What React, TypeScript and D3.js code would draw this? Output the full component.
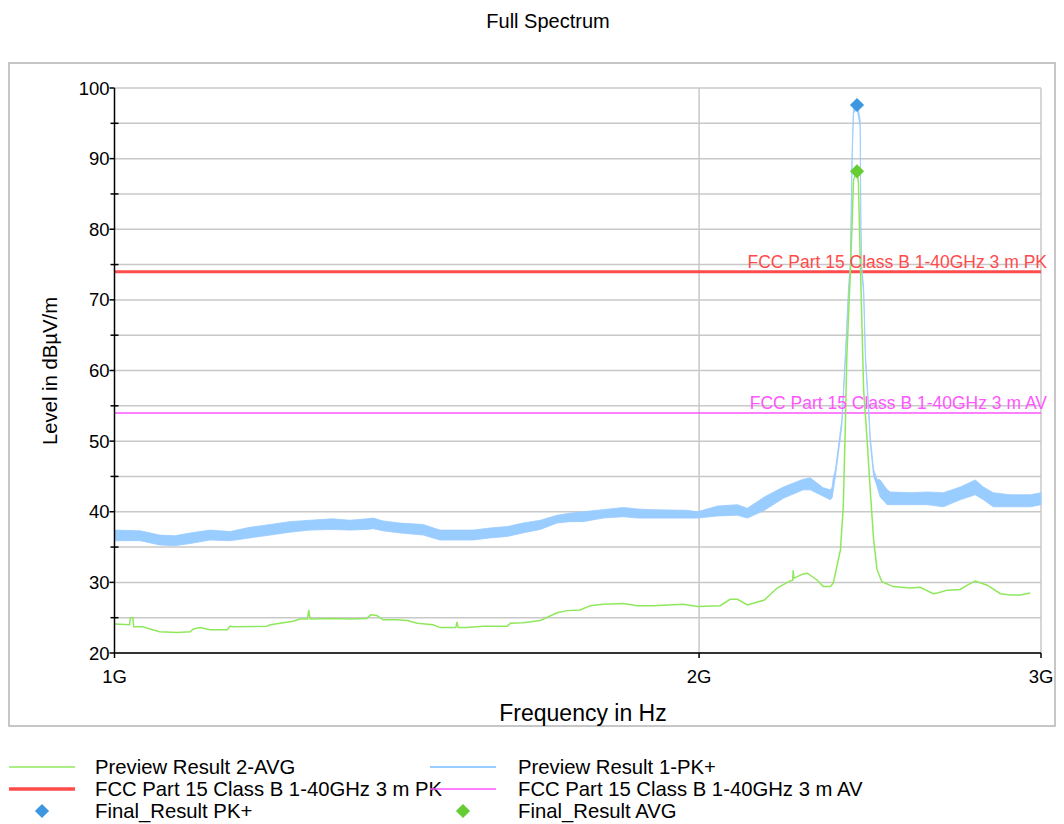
import { useEffect, useRef } from "react";
import * as d3 from "d3";

// 측정 데이터: 주파수(MHz), 레벨(dBµV/m) — 그림에서 읽은 값
const avgTrace: [number, number][] = [
  [1000, 24.1], [1018, 24.0], [1019, 25.0], [1022, 25.0], [1023, 23.7], [1034, 23.7], [1043, 23.4],
  [1055, 23.0], [1077, 22.9], [1094, 23.0], [1098, 23.4], [1107, 23.6], [1120, 23.3], [1143, 23.3],
  [1147, 23.8], [1151, 23.7], [1198, 23.8], [1203, 24.0], [1236, 24.5], [1246, 24.8], [1257, 24.8],
  [1259, 26.1], [1261, 24.8], [1295, 24.9], [1322, 24.8], [1349, 24.9], [1355, 25.4], [1365, 25.3],
  [1375, 24.7], [1398, 24.7], [1415, 24.6], [1432, 24.2], [1459, 24.0], [1471, 23.6], [1499, 23.6],
  [1501, 24.4], [1503, 23.6], [1519, 23.6], [1548, 23.8], [1593, 23.8], [1599, 24.2], [1623, 24.3],
  [1657, 24.6], [1690, 25.7], [1710, 26.0], [1737, 26.1], [1758, 26.7], [1785, 26.9], [1828, 27.0],
  [1859, 26.7], [1894, 26.7], [1963, 26.9], [1996, 26.6], [2051, 26.7], [2075, 27.6], [2093, 27.6],
  [2118, 26.8], [2161, 27.5], [2194, 29.2], [2228, 30.2], [2235, 30.3], [2236, 31.7], [2238, 30.6],
  [2263, 31.2], [2274, 31.3], [2301, 30.3], [2317, 29.4], [2337, 29.4], [2345, 29.9], [2365, 34.6],
  [2373, 40.7], [2379, 52.6], [2383, 62.0], [2393, 73.8], [2398, 80.9], [2402, 87.0], [2412, 88.2],
  [2416, 86.5], [2421, 76.1], [2426, 66.7], [2431, 57.2], [2441, 50.2], [2450, 43.1], [2460, 36.0],
  [2470, 31.8], [2484, 30.1], [2518, 29.4], [2569, 29.2], [2600, 29.3], [2640, 28.4], [2653, 28.5],
  [2685, 28.9], [2726, 29.0], [2749, 29.6], [2775, 30.2], [2815, 29.6], [2859, 28.4], [2893, 28.2],
  [2927, 28.2], [2962, 28.5],
];

// PK+ 트레이스: 노이즈 띠의 하한/상한 (MHz, low, high)
const pkBand: [number, number, number][] = [
  [1000, 35.9, 37.4], [1031, 35.9, 37.3], [1055, 35.3, 36.7], [1074, 35.2, 36.6], [1094, 35.5, 37.0],
  [1120, 36.0, 37.4], [1147, 35.9, 37.2], [1174, 36.3, 37.8], [1203, 36.7, 38.2], [1231, 37.1, 38.6],
  [1261, 37.4, 38.8], [1295, 37.5, 39.0], [1322, 37.4, 38.8], [1349, 37.5, 39.0], [1359, 37.6, 39.1],
  [1375, 37.3, 38.7], [1403, 37.0, 38.4], [1442, 36.7, 38.2], [1471, 36.0, 37.4], [1501, 36.0, 37.4],
  [1530, 36.0, 37.4], [1561, 36.3, 37.7], [1593, 36.5, 37.9], [1623, 37.0, 38.4], [1657, 37.5, 38.8],
  [1690, 38.4, 39.5], [1716, 38.6, 39.8], [1743, 38.6, 40.0], [1785, 39.1, 40.3], [1828, 39.3, 40.6],
  [1859, 39.1, 40.4], [1888, 39.1, 40.3], [1972, 39.1, 40.2], [1996, 39.1, 40.0], [2044, 39.4, 40.8],
  [2093, 39.5, 41.0], [2118, 39.1, 40.5], [2161, 40.2, 42.1], [2210, 41.9, 43.5], [2263, 43.1, 44.6],
  [2282, 43.1, 44.8], [2317, 42.2, 43.4], [2337, 41.7, 43.1], [2342, 42.0, 43.5], [2345, 43.0, 44.8],
  [2351, 45.0, 46.0], [2369, 52.1, 53.1], [2379, 61.5, 62.5], [2388, 70.9, 71.9], [2393, 74.2, 75.2],
  [2398, 89.8, 90.8], [2402, 96.4, 97.4], [2412, 97.1, 98.1], [2421, 94.5, 95.5], [2423, 80.4, 81.4],
  [2426, 73.3, 74.3], [2431, 70.9, 71.9], [2436, 61.5, 62.5], [2445, 54.4, 55.4], [2450, 49.7, 50.7],
  [2460, 45.0, 46.0], [2470, 43.6, 44.6], [2479, 42.1, 44.5], [2500, 41.0, 43.1], [2509, 41.0, 42.8],
  [2569, 41.0, 42.7], [2622, 41.0, 42.8], [2672, 40.7, 42.7], [2726, 41.7, 43.5], [2775, 42.4, 44.5],
  [2802, 41.7, 43.5], [2835, 40.7, 42.7], [2893, 40.7, 42.4], [2962, 40.7, 42.4], [3000, 41.0, 42.7],
];

const pkLimit = 74;
const avLimit = 54;
const pkLimitLabel = "FCC Part 15 Class B 1-40GHz 3 m PK";
const avLimitLabel = "FCC Part 15 Class B 1-40GHz 3 m AV";

const finalPk: [number, number][] = [[2412, 97.6]];
const finalAvg: [number, number][] = [[2412, 88.2]];

const yMajor = [20, 30, 40, 50, 60, 70, 80, 90, 100];
const yMinor = [25, 35, 45, 55, 65, 75, 85, 95];
const xTicks = [1000, 2000, 3000];
const xTickLabels = ["1G", "2G", "3G"];

const C = {
  avg: "#8fe85c",
  pk: "#99ccff",
  pkLim: "#ff4b4b",
  avLim: "#ff55ff",
  pkMark: "#3d97e0",
  avgMark: "#66cc33",
  grid: "#c8c8c8",
};

const legendItems = [
  { label: "Preview Result 2-AVG", kind: "line", color: C.avg, w: 1.5, col: 0, row: 0 },
  { label: "Preview Result 1-PK+", kind: "line", color: C.pk, w: 2, col: 1, row: 0 },
  { label: pkLimitLabel, kind: "line", color: C.pkLim, w: 3.5, col: 0, row: 1 },
  { label: avLimitLabel, kind: "line", color: C.avLim, w: 1.5, col: 1, row: 1 },
  { label: "Final_Result PK+", kind: "mark", color: C.pkMark, w: 0, col: 0, row: 2 },
  { label: "Final_Result AVG", kind: "mark", color: C.avgMark, w: 0, col: 1, row: 2 },
];

export default function App() {
  const svgRef = useRef<SVGSVGElement>(null);

  useEffect(() => {
    if (!svgRef.current) return;
    const svg = d3.select(svgRef.current);
    svg.selectAll("*").remove();
    const font = "'Liberation Sans', Arial, sans-serif";

    const x = d3.scaleLog().domain([1000, 3000]).range([114.5, 1041]);
    const y = d3.scaleLinear().domain([20, 100]).range([653, 88]);

    // 바깥 틀
    svg.append("rect")
      .attr("x", 9).attr("y", 63).attr("width", 1046).attr("height", 663)
      .attr("fill", "white").attr("stroke", "#b4b4b4").attr("stroke-width", 1.5);

    svg.append("text")
      .attr("x", 548).attr("y", 28).attr("text-anchor", "middle")
      .style("font-family", font).style("font-size", "20px")
      .text("Full Spectrum");

    // 그리드
    const grid = svg.append("g");
    grid.selectAll("line")
      .data([...yMajor, ...yMinor].filter((d) => d > 20))
      .join("line")
      .attr("x1", x(1000)).attr("x2", x(3000))
      .attr("y1", (d) => y(d)).attr("y2", (d) => y(d))
      .attr("stroke", C.grid).attr("stroke-width", 1.5);
    svg.append("g").selectAll("line")
      .data(xTicks.slice(1))
      .join("line")
      .attr("x1", (d) => x(d)).attr("x2", (d) => x(d))
      .attr("y1", y(20)).attr("y2", y(100))
      .attr("stroke", C.grid).attr("stroke-width", 1.5);

    // 한계선
    svg.append("line")
      .attr("x1", x(1000)).attr("x2", x(3000)).attr("y1", y(pkLimit)).attr("y2", y(pkLimit))
      .attr("stroke", C.pkLim).attr("stroke-width", 3);
    svg.append("line")
      .attr("x1", x(1000)).attr("x2", x(3000)).attr("y1", y(avLimit)).attr("y2", y(avLimit))
      .attr("stroke", C.avLim).attr("stroke-width", 1.5);

    // PK+ 띠
    const band = d3.area<[number, number, number]>()
      .x((d) => x(d[0])).y0((d) => y(d[1])).y1((d) => y(d[2]));
    svg.append("path")
      .datum(pkBand)
      .attr("fill", C.pk).attr("stroke", C.pk).attr("stroke-width", 0.8)
      .attr("stroke-linejoin", "round")
      .attr("d", band);

    // AVG 트레이스
    const line = d3.line<[number, number]>().x((d) => x(d[0])).y((d) => y(d[1]));
    svg.append("path")
      .datum(avgTrace)
      .attr("fill", "none").attr("stroke", C.avg).attr("stroke-width", 1.5)
      .attr("d", line);

    // 한계선 라벨
    [[pkLimit, pkLimitLabel, C.pkLim], [avLimit, avLimitLabel, C.avLim]].forEach(([v, t, c]) => {
      svg.append("text")
        .attr("x", 1047).attr("y", y(v as number) - 4).attr("text-anchor", "end")
        .attr("fill", c as string)
        .style("font-family", font).style("font-size", "17.5px")
        .text(t as string);
    });

    // 축
    svg.append("line")
      .attr("x1", x(1000)).attr("x2", x(1000)).attr("y1", y(20)).attr("y2", y(100))
      .attr("stroke", "#000").attr("stroke-width", 1.5);
    svg.append("line")
      .attr("x1", x(1000)).attr("x2", x(3000)).attr("y1", y(20)).attr("y2", y(20))
      .attr("stroke", "#333").attr("stroke-width", 2);

    svg.append("g").selectAll("line")
      .data(yMajor).join("line")
      .attr("x1", x(1000) - 5).attr("x2", x(1000))
      .attr("y1", (d) => y(d)).attr("y2", (d) => y(d))
      .attr("stroke", "#000").attr("stroke-width", 1.5);
    svg.append("g").selectAll("line")
      .data(yMinor).join("line")
      .attr("x1", x(1000) - 4).attr("x2", x(1000) + 4)
      .attr("y1", (d) => y(d)).attr("y2", (d) => y(d))
      .attr("stroke", "#000").attr("stroke-width", 1.5);
    svg.append("g").selectAll("line")
      .data(xTicks).join("line")
      .attr("x1", (d) => x(d)).attr("x2", (d) => x(d))
      .attr("y1", y(20)).attr("y2", y(20) + 5)
      .attr("stroke", "#000").attr("stroke-width", 1.5);

    svg.append("g").selectAll("text")
      .data(yMajor).join("text")
      .attr("x", x(1000) - 5).attr("y", (d) => y(d) + 6.5)
      .attr("text-anchor", "end")
      .style("font-family", font).style("font-size", "18.5px")
      .text((d) => String(d));
    svg.append("g").selectAll("text")
      .data(xTicks).join("text")
      .attr("x", (d) => x(d)).attr("y", 683)
      .attr("text-anchor", "middle")
      .style("font-family", font).style("font-size", "18.5px")
      .text((_, i) => xTickLabels[i]);

    svg.append("text")
      .attr("x", 583).attr("y", 721).attr("text-anchor", "middle")
      .style("font-family", font).style("font-size", "23px")
      .text("Frequency in Hz");
    svg.append("text")
      .attr("transform", `translate(57,371) rotate(-90)`)
      .attr("text-anchor", "middle")
      .style("font-family", font).style("font-size", "20.3px")
      .text("Level in dBµV/m");

    // 최종 결과 마커
    const diamond = d3.symbol().type(d3.symbolSquare).size(100);
    [[finalPk, C.pkMark], [finalAvg, C.avgMark]].forEach(([pts, c]) => {
      svg.append("g").selectAll("path")
        .data(pts as [number, number][]).join("path")
        .attr("d", diamond)
        .attr("transform", (d) => `translate(${x(d[0])},${y(d[1])}) rotate(45)`)
        .attr("fill", c as string);
    });

    // 범례
    const lg = svg.append("g");
    legendItems.forEach((it) => {
      const lx = it.col === 0 ? 9 : 430;
      const tx = it.col === 0 ? 95 : 518;
      const ly = 767 + it.row * 22;
      if (it.kind === "line") {
        lg.append("line")
          .attr("x1", lx).attr("x2", lx + 66).attr("y1", ly).attr("y2", ly)
          .attr("stroke", it.color).attr("stroke-width", it.w);
      } else {
        lg.append("path")
          .attr("d", diamond)
          .attr("transform", `translate(${lx + 33},${ly}) rotate(45)`)
          .attr("fill", it.color);
      }
      lg.append("text")
        .attr("x", tx).attr("y", ly + 7)
        .style("font-family", font).style("font-size", "20.3px")
        .text(it.label);
    });
  }, []);

  return (
    <svg
      ref={svgRef}
      width={1064}
      height={824}
      style={{ position: "absolute", left: 0, top: 0, background: "white" }}
    />
  );
}
